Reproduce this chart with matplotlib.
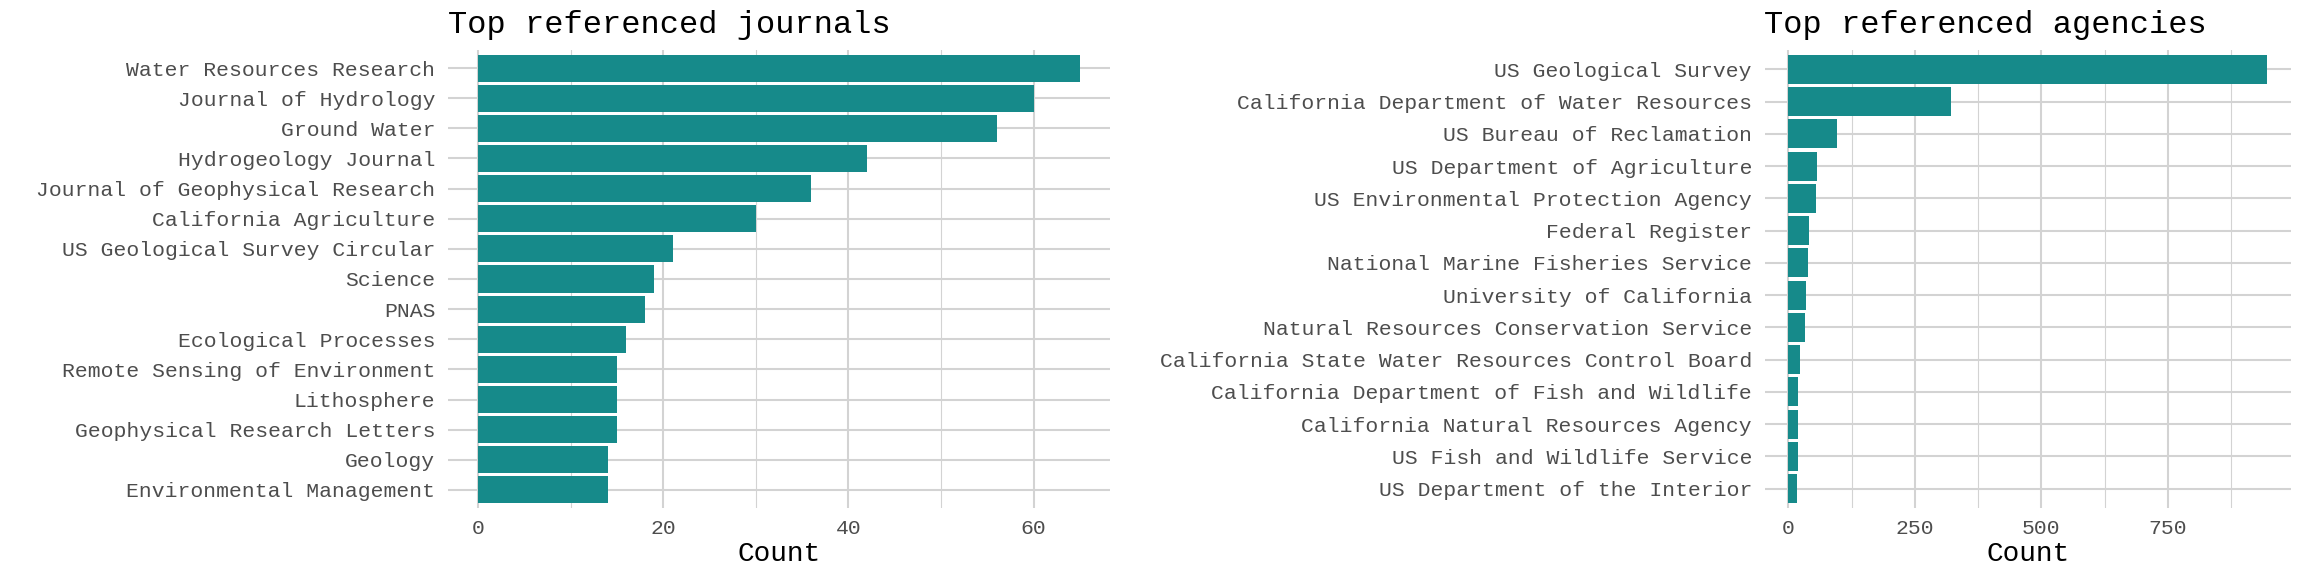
"""Top referenced journals and agencies, two horizontal bar panels."""

import matplotlib

matplotlib.use("Agg")
import matplotlib.pyplot as plt
from matplotlib.ticker import FixedLocator

plt.rcParams["font.family"] = ["Liberation Mono", "DejaVu Sans Mono"]

# Data, ordered from top bar to bottom bar.
journals = [
    "Water Resources Research",
    "Journal of Hydrology",
    "Ground Water",
    "Hydrogeology Journal",
    "Journal of Geophysical Research",
    "California Agriculture",
    "US Geological Survey Circular",
    "Science",
    "PNAS",
    "Ecological Processes",
    "Remote Sensing of Environment",
    "Lithosphere",
    "Geophysical Research Letters",
    "Geology",
    "Environmental Management",
]
journal_counts = [65, 60, 56, 42, 36, 30, 21, 19, 18, 16, 15, 15, 15, 14, 14]

agencies = [
    "US Geological Survey",
    "California Department of Water Resources",
    "US Bureau of Reclamation",
    "US Department of Agriculture",
    "US Environmental Protection Agency",
    "Federal Register",
    "National Marine Fisheries Service",
    "University of California",
    "Natural Resources Conservation Service",
    "California State Water Resources Control Board",
    "California Department of Fish and Wildlife",
    "California Natural Resources Agency",
    "US Fish and Wildlife Service",
    "US Department of the Interior",
]
agency_counts = [946, 321, 96, 57, 54, 41, 38, 34, 32, 23, 19, 19, 18, 16]

journal_ticks = [0, 20, 40, 60]
journal_minor = [10, 30, 50]
agency_ticks = [0, 250, 500, 750]
agency_minor = [125, 375, 625, 875]

BAR = "#168a8a"
GRID = "#d3d3d3"
TEXT = "#4d4d4d"

W, H, DPI = 2304, 576, 100


def panel(ax, labels, counts, title, ticks, minor):
    n = len(labels)
    ypos = list(range(n - 1, -1, -1))
    ax.barh(ypos, counts, height=0.9, color=BAR, zorder=2)
    ax.set_yticks(ypos)
    ax.set_yticklabels(labels)
    ax.set_ylim(-0.6, n - 1 + 0.6)
    top = max(counts)
    ax.set_xlim(-0.05 * top, top * 1.05)
    ax.xaxis.set_major_locator(FixedLocator(ticks))
    ax.xaxis.set_minor_locator(FixedLocator(minor))
    ax.set_axisbelow(True)
    ax.grid(which="major", axis="both", color=GRID, linewidth=1.5)
    ax.grid(which="minor", axis="x", color=GRID, linewidth=0.8)
    for s in ax.spines.values():
        s.set_visible(False)
    ax.tick_params(which="both", length=0)
    ax.tick_params(axis="y", pad=9, labelsize=15.4, labelcolor=TEXT)
    ax.tick_params(axis="x", pad=8, labelsize=15.4, labelcolor=TEXT)
    ax.set_xlabel("Count", fontsize=20, labelpad=2, color="black")
    ax.set_title(title, loc="left", fontsize=23, pad=12, color="black")


fig = plt.figure(figsize=(W / DPI, H / DPI), dpi=DPI)
bottom = (H - 508) / H
height = 458 / H
ax1 = fig.add_axes([448 / W, bottom, (1110 - 448) / W, height])
ax2 = fig.add_axes([1764.5 / W, bottom, (2291 - 1764.5) / W, height])

panel(ax1, journals, journal_counts, "Top referenced journals", journal_ticks, journal_minor)
panel(ax2, agencies, agency_counts, "Top referenced agencies", agency_ticks, agency_minor)

fig.savefig("out.png", dpi=DPI, facecolor="white")
